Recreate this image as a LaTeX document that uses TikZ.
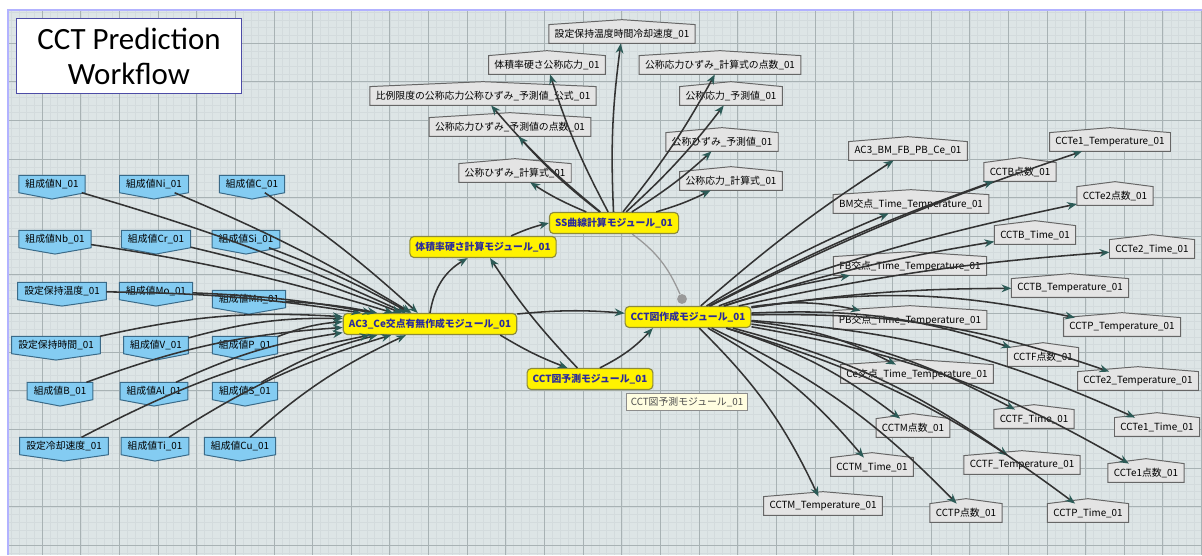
\documentclass[tikz,border=0pt]{standalone}
\usepackage{fontspec}
\setmainfont{Noto Sans CJK JP}
\newfontfamily\titlefont{Carlito}
\usepackage{tikz}
\usetikzlibrary{backgrounds, arrows.meta}
\definecolor{gridBg}{HTML}{DDE5E6}
\definecolor{gridMajor}{HTML}{A8B2B4}
\definecolor{gridMinor}{HTML}{D3DBDD}
\definecolor{compFill}{HTML}{84CCF2}
\definecolor{compLine}{HTML}{3A6A88}
\definecolor{dataFill}{HTML}{E4E4E4}
\definecolor{modLine}{HTML}{8C8A3C}
\definecolor{modText}{HTML}{2B2B9C}
\definecolor{tipTeal}{HTML}{2C5B57}
\tikzstyle{nodeText}=[font=\fontsize{7}{8}\selectfont, inner ysep=0pt]
\tikzstyle{comp}=[nodeText, text=black, inner xsep=4.5pt, minimum height=12pt]
\tikzstyle{data}=[nodeText, text=black, inner xsep=4pt, minimum height=13pt]
\tikzstyle{module}=[nodeText, font=\fontsize{7}{8}\selectfont\bfseries, text=modText,
  fill=yellow, draw=modLine, line width=0.8pt, rounded corners=3pt,
  inner xsep=4pt, minimum height=15pt]
\tikzstyle{tipBox}=[nodeText, text=black!70, fill=yellow!12, draw=black!45,
  line width=0.5pt, inner xsep=3pt, minimum height=12pt]
\tikzstyle{compShape}=[fill=compFill, draw=compLine, line width=0.7pt]
\tikzstyle{dataShape}=[fill=dataFill, draw=black!60, line width=0.7pt]
\tikzstyle{arrow}=[-{Stealth[length=7pt, width=5.5pt, color=tipTeal]},
  line width=1.1pt, draw=black!80]
\tikzstyle{link}=[line width=0.9pt, draw=black!40]
\tikzstyle{titleBox}=[draw=blue!50!black!70, fill=white, line width=0.8pt,
  minimum width=160pt, minimum height=53pt, align=center,
  font=\titlefont\fontsize{22}{25}\selectfont]

\begin{document}
\begin{tikzpicture}[x=0.025cm, y=-0.025cm]
  \useasboundingbox (0,0) rectangle (1202,555);

  % grid paper
  \begin{scope}[on background layer]
    \fill[gridBg] (8,10) rectangle (1202,555);
    \clip (8,10) rectangle (1202,555);
    \foreach \i in {0,...,155}
      \draw[gridMinor, line width=0.15pt] ({3.4+7.73*\i},10) -- ({3.4+7.73*\i},555);
    \foreach \i in {0,...,71}
      \draw[gridMinor, line width=0.15pt] (8,{4.35+7.73*\i}) -- (1202,{4.35+7.73*\i});
    \foreach \i in {0,...,31}
      \draw[gridMajor, line width=0.6pt] ({3.4+38.65*\i},10) -- ({3.4+38.65*\i},555);
    \foreach \i in {0,...,14}
      \draw[gridMajor, line width=0.6pt] (8,{4.35+38.65*\i}) -- (1202,{4.35+38.65*\i});
  \end{scope}
  \draw[blue!30, line width=1pt] (8,555) -- (8,10) -- (1202,10);

  \node[titleBox] (title) at (129,56) {CCT Prediction\\Workflow};

  % inputs
  \node[comp] (cN) at (52,184) {組成値N\_01};
  \node[comp] (cNi) at (154,184) {組成値Ni\_01};
  \node[comp] (cC) at (252,184) {組成値C\_01};
  \node[comp] (cNb) at (55,239) {組成値Nb\_01};
  \node[comp] (cCr) at (156,239) {組成値Cr\_01};
  \node[comp] (cSi) at (246,239) {組成値Si\_01};
  \node[comp] (sTemp) at (62,291) {設定保持温度\_01};
  \node[comp] (cMo) at (156,291) {組成値Mo\_01};
  \node[comp] (cMn) at (249,299) {組成値Mn\_01};
  \node[comp] (sTime) at (56,345) {設定保持時間\_01};
  \node[comp] (cV) at (156,345) {組成値V\_01};
  \node[comp] (cP) at (245,345) {組成値P\_01};
  \node[comp] (cB) at (60,391) {組成値B\_01};
  \node[comp] (cAl) at (154,391) {組成値Al\_01};
  \node[comp] (cS) at (245,391) {組成値S\_01};
  \node[comp] (sCool) at (64,446) {設定冷却速度\_01};
  \node[comp] (cTi) at (155,446) {組成値Ti\_01};
  \node[comp] (cCu) at (240,446) {組成値Cu\_01};

  % modules
  \node[module] (ac3) at (430,324) {AC3\_Ce交点有無作成モジュール\_01};
  \node[module] (vol) at (483,247) {体積率硬さ計算モジュール\_01};
  \node[module] (ss) at (614,223) {SS曲線計算モジュール\_01};
  \node[module] (make) at (688,317) {CCT図作成モジュール\_01};
  \node[module] (pred) at (590,379) {CCT図予測モジュール\_01};
  \node[tipBox] (tip) at (687,402) {CCT図予測モジュール\_01};
  \node[circle, fill=black!40, inner sep=0pt, minimum size=7pt] (dot) at (682,299) {};

  % SS outputs
  \node[data] (tHold) at (622,34) {設定保持温度時間冷却速度\_01};
  \node[data] (tVolStress) at (547,65) {体積率硬さ公称応力\_01};
  \node[data] (tPtsCalc) at (720,65) {公称応力ひずみ\_計算式の点数\_01};
  \node[data] (tPropLim) at (483,96) {比例限度の公称応力公称ひずみ\_予測値\_公式\_01};
  \node[data] (tStressPred) at (731,96) {公称応力\_予測値\_01};
  \node[data] (tPtsPred) at (510,127) {公称応力ひずみ\_予測値の点数\_01};
  \node[data] (tStrainPred) at (722,142) {公称ひずみ\_予測値\_01};
  \node[data] (tStrainCalc) at (515,173) {公称ひずみ\_計算式\_01};
  \node[data] (tStressCalc) at (731,181) {公称応力\_計算式\_01};

  % CCT outputs
  \node[data] (rAC3) at (908,151) {AC3\_BM\_FB\_PB\_Ce\_01};
  \node[data] (rE1Temp) at (1110,142) {CCTe1\_Temperature\_01};
  \node[data] (rBPts) at (1020,172) {CCTB点数\_01};
  \node[data] (rBM) at (911,204) {BM交点\_Time\_Temperature\_01};
  \node[data] (rE2Pts) at (1115,196) {CCTe2点数\_01};
  \node[data] (rBTime) at (1035,235) {CCTB\_Time\_01};
  \node[data] (rE2Time) at (1152,249) {CCTe2\_Time\_01};
  \node[data] (rFB) at (910,266) {FB交点\_Time\_Temperature\_01};
  \node[data] (rBTemp) at (1070,288) {CCTB\_Temperature\_01};
  \node[data] (rPB) at (910,320) {PB交点\_Time\_Temperature\_01};
  \node[data] (rPTemp) at (1122,327) {CCTP\_Temperature\_01};
  \node[data] (rFPts) at (1043,357) {CCTF点数\_01};
  \node[data] (rE2Temp) at (1138,381) {CCTe2\_Temperature\_01};
  \node[data] (rCe) at (917,374) {Ce交点\_Time\_Temperature\_01};
  \node[data] (rFTime) at (1034,419) {CCTF\_Time\_01};
  \node[data] (rE1Time) at (1157,427) {CCTe1\_Time\_01};
  \node[data] (rMPts) at (913,428) {CCTM点数\_01};
  \node[data] (rMTime) at (872,467) {CCTM\_Time\_01};
  \node[data] (rFTemp) at (1022,465) {CCTF\_Temperature\_01};
  \node[data] (rE1Pts) at (1146,473) {CCTe1点数\_01};
  \node[data] (rMTemp) at (823,506) {CCTM\_Temperature\_01};
  \node[data] (rPPts) at (966,513) {CCTP点数\_01};
  \node[data] (rPTime) at (1088,513) {CCTP\_Time\_01};

  % node outlines
  \begin{scope}[on background layer]
    \foreach \n in {cN,cNi,cC,cNb,cCr,cSi,sTemp,cMo,cMn,sTime,cV,cP,cB,cAl,cS,sCool,cTi,cCu}
      \filldraw[compShape] (\n.north west) -- (\n.north east) -- (\n.south east)
        -- ([yshift=-4.5pt]\n.south) -- (\n.south west) -- cycle;
    \foreach \n in {tHold,tVolStress,tPtsCalc,tPropLim,tStressPred,tPtsPred,tStrainPred,
        tStrainCalc,tStressCalc,rAC3,rE1Temp,rBPts,rBM,rE2Pts,rBTime,rE2Time,rFB,rBTemp,
        rPB,rPTemp,rFPts,rE2Temp,rCe,rFTime,rE1Time,rMPts,rMTime,rFTemp,rE1Pts,rMTemp,
        rPPts,rPTime}
      \filldraw[dataShape] (\n.south west) -- (\n.north west) -- ([yshift=3.5pt]\n.north)
        -- (\n.north east) -- (\n.south east) -- cycle;
  \end{scope}

  % connectors
  \foreach \n in {cN,cNi,cC,cNb,cCr,cSi,sTemp,cMo,cMn}
    \draw[arrow] (\n) to[bend left=4] (ac3);
  \foreach \n in {sTime,cV,cP,cB,cAl,cS,sCool,cTi,cCu}
    \draw[arrow] (\n) to[bend left=8] (ac3);

  \draw[arrow] (ac3.north) to[bend left=25] ([xshift=-11pt]vol.south);
  \draw[arrow] ([xshift=20pt]vol.north) to[bend left=5] (ss.west);
  \draw[arrow] (ac3) to[bend left=5] (make);
  \draw[arrow] ([xshift=50pt]ac3.south) to[bend right=5] ([xshift=-16pt]pred.north);
  \draw[arrow] ([xshift=-9pt]pred.north) to[bend left=5] ([xshift=5pt]vol.south);
  \draw[arrow] ([xshift=7pt]pred.north) to[bend right=10] ([xshift=-25pt]make.south);
  \draw[link] ([xshift=13pt]ss.south) to[bend left=15] (dot);

  \foreach \n in {tVolStress,tPropLim,tPtsPred,tStrainCalc,tHold}
    \draw[arrow] (ss) to[bend left=5] (\n);
  \foreach \n in {tPtsCalc,tStressPred,tStrainPred,tStressCalc}
    \draw[arrow] (ss) to[bend right=5] (\n);

  \foreach \n in {rAC3,rE1Temp,rBPts,rBM,rE2Pts,rBTime,rE2Time,rFB,rBTemp}
    \draw[arrow] (make) to[bend left=4] (\n);
  \foreach \n in {rPB,rPTemp,rFPts,rE2Temp,rCe,rFTime,rE1Time,rMPts,rMTime,rFTemp,
      rE1Pts,rMTemp,rPPts,rPTime}
    \draw[arrow] (make) to[bend left=10] (\n);
\end{tikzpicture}
\end{document}
